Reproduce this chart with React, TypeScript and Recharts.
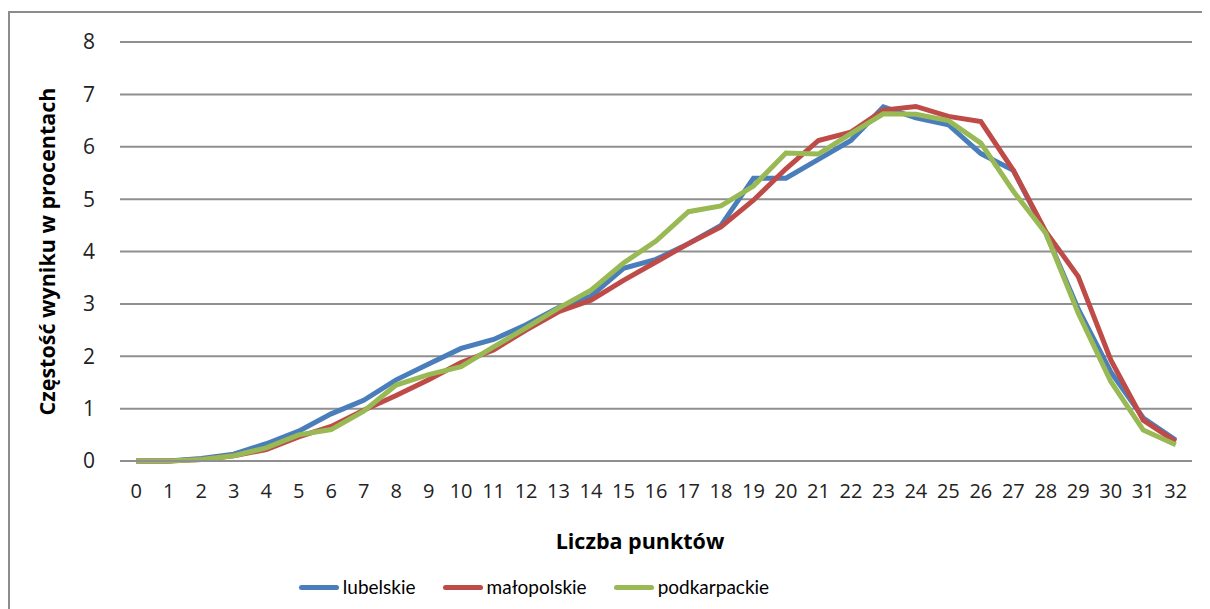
import React from "react";
import { LineChart, Line, XAxis, YAxis, CartesianGrid, Legend } from "recharts";

// liczba punktów 0..32
const points = [
  "0", "1", "2", "3", "4", "5", "6", "7", "8", "9", "10", "11", "12", "13", "14", "15", "16",
  "17", "18", "19", "20", "21", "22", "23", "24", "25", "26", "27", "28", "29", "30", "31", "32",
];

const lubelskie = [
  0, 0, 0.05, 0.13, 0.33, 0.57, 0.9, 1.16, 1.55, 1.85, 2.15, 2.32, 2.6, 2.93, 3.15, 3.68, 3.85,
  4.15, 4.5, 5.4, 5.4, 5.76, 6.12, 6.76, 6.55, 6.42, 5.87, 5.55, 4.35, 2.9, 1.7, 0.82, 0.4,
];

const malopolskie = [
  0, 0, 0.03, 0.1, 0.22, 0.46, 0.66, 0.97, 1.25, 1.55, 1.88, 2.12, 2.5, 2.85, 3.07, 3.45, 3.8,
  4.15, 4.47, 4.98, 5.58, 6.12, 6.28, 6.7, 6.77, 6.58, 6.48, 5.55, 4.38, 3.52, 1.93, 0.78, 0.37,
];

const podkarpackie = [
  0, 0, 0.03, 0.1, 0.25, 0.5, 0.6, 0.95, 1.45, 1.65, 1.8, 2.18, 2.54, 2.92, 3.26, 3.78, 4.2,
  4.76, 4.87, 5.25, 5.88, 5.86, 6.25, 6.63, 6.62, 6.5, 6.07, 5.15, 4.35, 2.82, 1.52, 0.59, 0.31,
];

const yTicks = [0, 1, 2, 3, 4, 5, 6, 7, 8];

const series = [
  { key: "lubelskie", name: "lubelskie", color: "#4A7EBB" },
  { key: "malopolskie", name: "małopolskie", color: "#BE4B48" },
  { key: "podkarpackie", name: "podkarpackie", color: "#98B954" },
];

const data = points.map((p, i) => ({
  name: p,
  lubelskie: lubelskie[i],
  malopolskie: malopolskie[i],
  podkarpackie: podkarpackie[i],
}));

const FONT = "'Open Sans', sans-serif";
const LEGEND_FONT = "Lato, 'Open Sans', sans-serif";
const GRID = "#8f8f8f";

function YTitle(props: any) {
  const vb = props.viewBox;
  const cx = vb.x - 14;
  const cy = vb.y + vb.height / 2;
  return (
    <text
      x={cx}
      y={cy}
      transform={`rotate(-90 ${cx} ${cy})`}
      textAnchor="middle"
      dominantBaseline="central"
      fontFamily={FONT}
      fontWeight="bold"
      fontSize={21.5}
      fill="#000"
    >
      Częstość wyniku w procentach
    </text>
  );
}

function LegendBox() {
  return (
    <div
      style={{
        display: "flex",
        justifyContent: "center",
        alignItems: "center",
        fontFamily: LEGEND_FONT,
        fontSize: 19,
        lineHeight: "24px",
        color: "#000",
        paddingTop: 14,
        marginLeft: -157,
      }}
    >
      {series.map((s) => (
        <div key={s.key} style={{ display: "flex", alignItems: "center", marginRight: 27 }}>
          <span
            style={{
              display: "inline-block",
              width: 40,
              height: 5,
              borderRadius: 3,
              background: s.color,
              marginRight: 4,
            }}
          />
          <span>{s.name}</span>
        </div>
      ))}
    </div>
  );
}

export default function App() {
  return (
    <div style={{ position: "relative", width: 1202, height: 601, overflow: "hidden", background: "#fff" }}>
      <div
        style={{
          position: "absolute",
          left: 0,
          top: 3,
          width: 1220,
          height: 640,
          borderLeft: "2px solid #8c8c8c",
          borderTop: "2px solid #8c8c8c",
          boxSizing: "border-box",
        }}
      />
      <div style={{ position: "absolute", left: 0, top: 0 }}>
        <LineChart
          width={1202}
          height={601}
          data={data}
          margin={{ top: 34, right: 18, left: 52, bottom: 8 }}
        >
          <CartesianGrid vertical={false} stroke={GRID} strokeWidth={2} />
          <XAxis
            dataKey="name"
            height={100}
            padding={{ left: 16.25, right: 16.25 }}
            axisLine={{ stroke: GRID, strokeWidth: 2 }}
            tickLine={false}
            tickSize={0}
            tickMargin={23}
            interval={0}
            tick={{ fontFamily: FONT, fontSize: 20, fill: "#222" }}
            label={{
              value: "Liczba punktów",
              position: "insideBottom",
              offset: 12,
              dx: -16,
              fontFamily: FONT,
              fontWeight: "bold",
              fontSize: 21.5,
              fill: "#000",
            }}
          />
          <YAxis
            width={60}
            domain={[0, 8]}
            ticks={yTicks}
            axisLine={false}
            tickLine={false}
            tickSize={0}
            tickMargin={25}
            tick={{ fontFamily: FONT, fontSize: 21, fill: "#222" }}
            label={<YTitle />}
          />
          <Legend verticalAlign="bottom" height={40} content={() => <LegendBox />} />
          {series.map((s) => (
            <Line
              key={s.key}
              type="linear"
              dataKey={s.key}
              name={s.name}
              stroke={s.color}
              strokeWidth={5}
              dot={false}
              isAnimationActive={false}
            />
          ))}
        </LineChart>
      </div>
    </div>
  );
}
